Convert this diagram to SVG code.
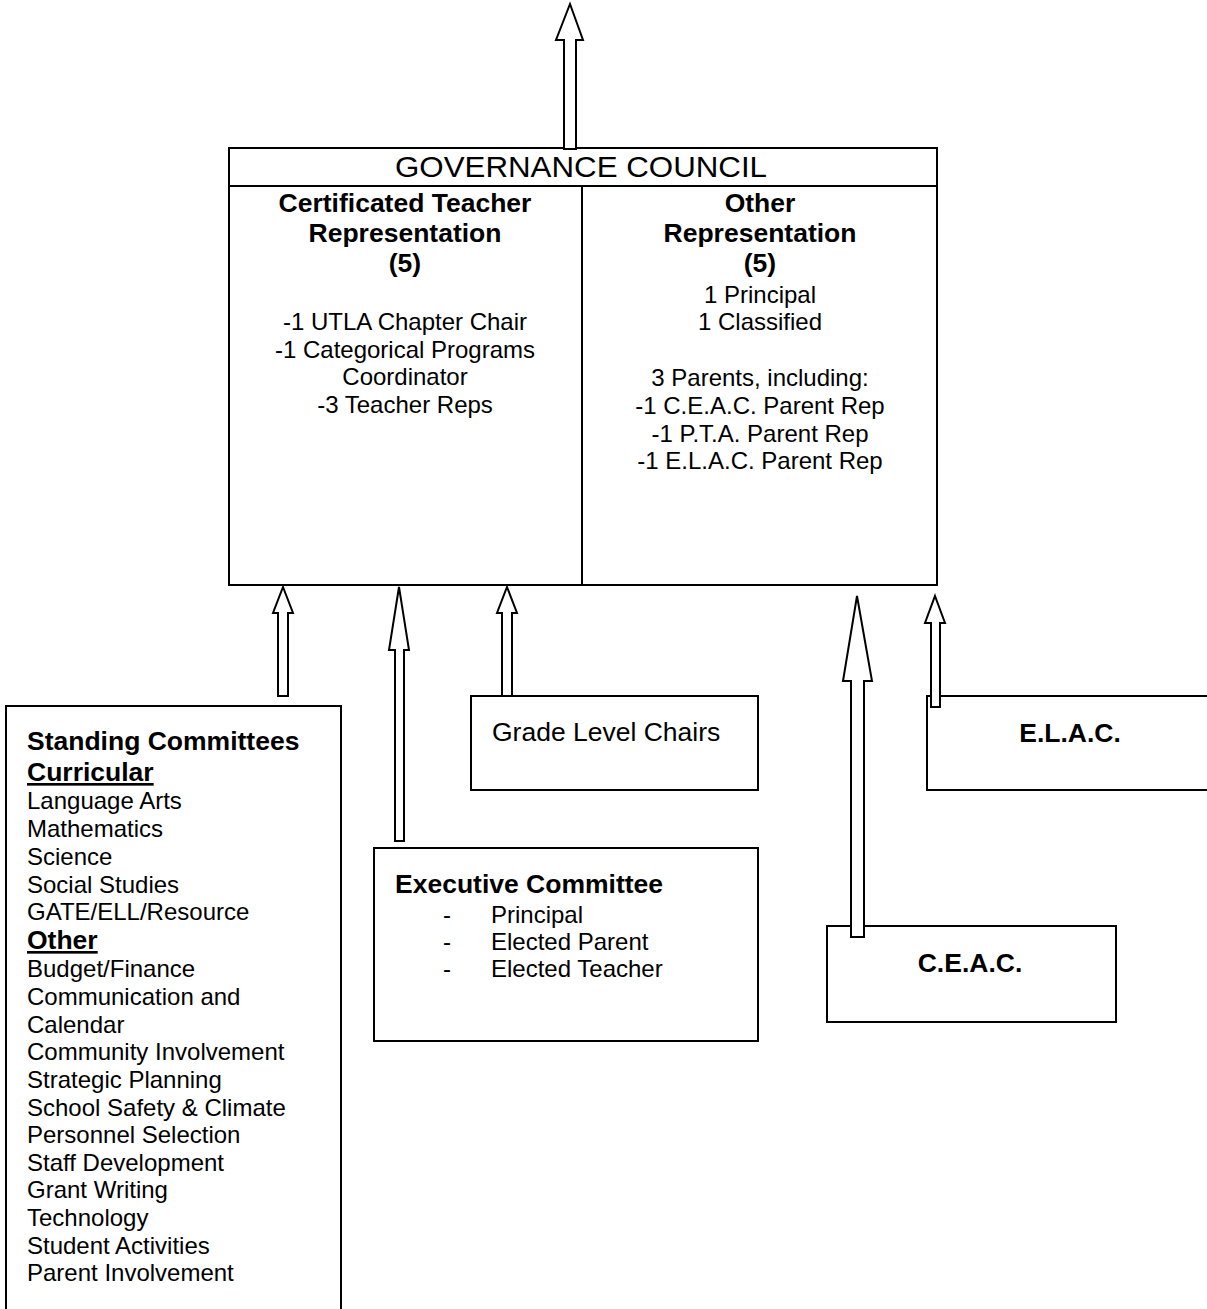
<svg xmlns="http://www.w3.org/2000/svg" width="1207" height="1309" viewBox="0 0 1207 1309">
<style>
.box{fill:#fff;stroke:#000;stroke-width:2}
.line{stroke:#000;stroke-width:2;fill:none}
.arr{fill:#fff;stroke:#000;stroke-width:2;stroke-linejoin:miter}
text{font-family:"Liberation Sans",Arial,sans-serif;fill:#000}
.b{font-weight:bold;font-size:26.5px}
.r{font-size:24px}
.g{font-size:26.5px}
.t{font-size:30px}
.c{text-anchor:middle}
</style>
<rect width="1207" height="1309" fill="#fff"/>
<g id="governance-council">
<rect class="box" x="229" y="148" width="708" height="437"/>
<line class="line" x1="229" y1="186" x2="937" y2="186"/>
<line class="line" x1="582" y1="186" x2="582" y2="585"/>
<text class="t c" x="581" y="177" textLength="372" lengthAdjust="spacingAndGlyphs">GOVERNANCE COUNCIL</text>
<text class="b c" x="405" y="212">Certificated Teacher</text>
<text class="b c" x="405" y="242">Representation</text>
<text class="b c" x="405" y="272">(5)</text>
<text class="r c" x="405" y="330">-1 UTLA Chapter Chair</text>
<text class="r c" x="405" y="357.5">-1 Categorical Programs</text>
<text class="r c" x="405" y="385">Coordinator</text>
<text class="r c" x="405" y="412.5">-3 Teacher Reps</text>
<text class="b c" x="760" y="212">Other</text>
<text class="b c" x="760" y="242">Representation</text>
<text class="b c" x="760" y="272">(5)</text>
<text class="r c" x="760" y="302.5">1 Principal</text>
<text class="r c" x="760" y="330">1 Classified</text>
<text class="r c" x="760" y="386">3 Parents, including:</text>
<text class="r c" x="760" y="414">-1 C.E.A.C. Parent Rep</text>
<text class="r c" x="760" y="441.5">-1 P.T.A. Parent Rep</text>
<text class="r c" x="760" y="469">-1 E.L.A.C. Parent Rep</text>
</g>
<g id="standing-committees">
<rect class="box" x="6" y="706" width="335" height="620"/>
<text class="b" x="27" y="750">Standing Committees</text>
<text class="b" x="27" y="781" text-decoration="underline">Curricular</text>
<text class="r" x="27" y="809">Language Arts</text>
<text class="r" x="27" y="837">Mathematics</text>
<text class="r" x="27" y="865">Science</text>
<text class="r" x="27" y="893">Social Studies</text>
<text class="r" x="27" y="920">GATE/ELL/Resource</text>
<text class="b" x="27" y="949" text-decoration="underline">Other</text>
<text class="r" x="27" y="977">Budget/Finance</text>
<text class="r" x="27" y="1005">Communication and</text>
<text class="r" x="27" y="1033">Calendar</text>
<text class="r" x="27" y="1060">Community Involvement</text>
<text class="r" x="27" y="1088">Strategic Planning</text>
<text class="r" x="27" y="1116">School Safety &amp; Climate</text>
<text class="r" x="27" y="1143">Personnel Selection</text>
<text class="r" x="27" y="1171">Staff Development</text>
<text class="r" x="27" y="1198">Grant Writing</text>
<text class="r" x="27" y="1226">Technology</text>
<text class="r" x="27" y="1254">Student Activities</text>
<text class="r" x="27" y="1281">Parent Involvement</text>
</g>
<g id="grade-level-chairs">
<rect class="box" x="471" y="696" width="287" height="94"/>
<text class="g" x="492" y="741">Grade Level Chairs</text>
</g>
<g id="executive-committee">
<rect class="box" x="374" y="848" width="384" height="193"/>
<text class="b" x="395" y="893">Executive Committee</text>
<text class="r" x="443" y="922.5">-</text>
<text class="r" x="491" y="922.5">Principal</text>
<text class="r" x="443" y="950">-</text>
<text class="r" x="491" y="950">Elected Parent</text>
<text class="r" x="443" y="977">-</text>
<text class="r" x="491" y="977">Elected Teacher</text>
</g>
<g id="elac">
<rect class="box" x="927" y="696" width="300" height="94"/>
<text class="b c" x="1070" y="742">E.L.A.C.</text>
</g>
<g id="ceac">
<rect class="box" x="827" y="926" width="289" height="96"/>
<text class="b c" x="970" y="972">C.E.A.C.</text>
</g>
<g id="connectors">
<polygon class="arr" points="570,4 583,40 576,40 576,149 564,149 564,40 556,40"/>
<polygon class="arr" points="283,587 293,613 288,613 288,696 278,696 278,613 273,613"/>
<polygon class="arr" points="399,587 409,650 404,650 404,841 395,841 395,650 389,650"/>
<polygon class="arr" points="507,587 517,613 512,613 512,696 502,696 502,613 497,613"/>
<polygon class="arr" points="857,596 872,681 864,681 864,937 851,937 851,681 843,681"/>
<polygon class="arr" points="935,596 945,623 940,623 940,707 931,707 931,623 925,623"/>
</g>
</svg>
